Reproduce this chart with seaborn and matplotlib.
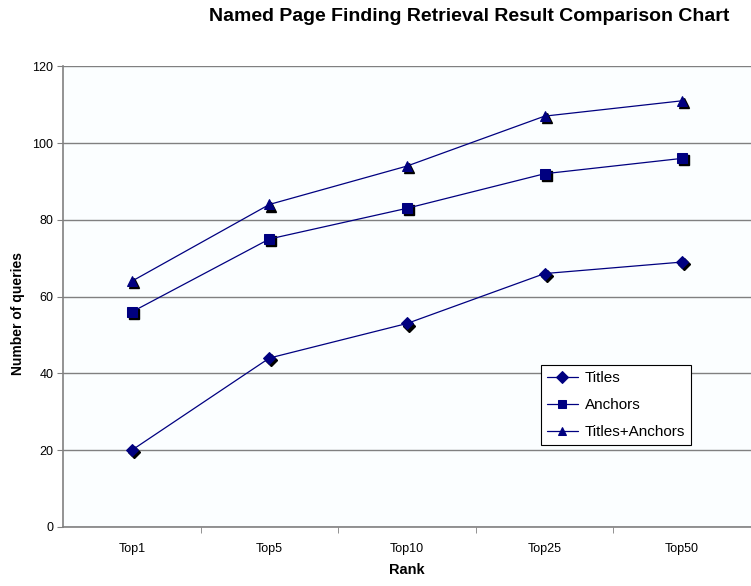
import pandas as pd
import seaborn as sns
import matplotlib.pyplot as plt
from matplotlib.transforms import ScaledTranslation
from matplotlib.ticker import FixedLocator

ranks = ['Top1', 'Top5', 'Top10', 'Top25', 'Top50']
titles = [20, 44, 53, 66, 69]
anchors = [56, 75, 83, 92, 96]
titles_anchors = [64, 84, 94, 107, 111]

series = ['Titles', 'Anchors', 'Titles+Anchors']
df = pd.DataFrame({
    'Rank': ranks * 3,
    'Queries': titles + anchors + titles_anchors,
    'Series': [s for s in series for _ in ranks],
})

sns.set_style('white')
plt.rcParams['font.family'] = ['Liberation Sans', 'DejaVu Sans']
plt.rcParams['text.color'] = 'black'
plt.rcParams['axes.labelcolor'] = 'black'
plt.rcParams['xtick.color'] = 'black'
plt.rcParams['ytick.color'] = 'black'

fig = plt.figure(figsize=(7.51, 5.86), dpi=100)
ax = fig.add_axes([0.0839, 0.1007, 0.9161, 0.7863])
ax.set_facecolor('#fbfeff')

navy = '#000080'
markers = {'Titles': 'D', 'Anchors': 's', 'Titles+Anchors': '^'}
sizes = {'Titles': 6, 'Anchors': 7, 'Titles+Anchors': 7.5}

# black drop shadow under the markers, like the original Excel chart
shadow = ax.transData + ScaledTranslation(1.5 / 72, -1.5 / 72, fig.dpi_scale_trans)
for s in series:
    d = df[df['Series'] == s]
    ax.plot(range(len(ranks)), d['Queries'].values, linestyle='none',
            marker=markers[s], markersize=sizes[s], color='black',
            transform=shadow, zorder=3)

for s in series:
    d = df[df['Series'] == s]
    sns.lineplot(data=d, x='Rank', y='Queries', ax=ax, color=navy,
                 marker=markers[s], markersize=sizes[s], markeredgecolor=navy,
                 linewidth=0.9, label=s, zorder=4)

ax.set_xlim(-0.5, 4.5)
ax.set_ylim(0, 120)
ax.set_yticks(range(0, 121, 20))
ax.yaxis.grid(True, color='#808080', linewidth=1)
ax.xaxis.grid(False)
ax.set_axisbelow(True)
for sp in ['top', 'right']:
    ax.spines[sp].set_visible(False)
for sp in ['left', 'bottom']:
    ax.spines[sp].set_color('#808080')
    ax.spines[sp].set_linewidth(1.2)

ax.tick_params(axis='y', which='major', left=True, length=4, color='#808080',
               labelsize=9, pad=3)
ax.tick_params(axis='x', which='major', bottom=False, labelsize=9, pad=8)
ax.xaxis.set_minor_locator(FixedLocator([0.5, 1.5, 2.5, 3.5]))
ax.tick_params(axis='x', which='minor', bottom=True, length=4, color='#808080')

ax.set_xlabel('Rank', fontsize=10.5, fontweight='bold', labelpad=6)
ax.set_ylabel('Number of queries', fontsize=10, fontweight='bold')
ax.yaxis.set_label_coords(-0.055, 0.464)
fig.text(0.6245, 0.971, 'Named Page Finding Retrieval Result Comparison Chart',
         ha='center', va='center', fontsize=14, fontweight='bold')

leg = ax.legend(loc='upper left', bbox_to_anchor=(541 / 751, 1 - 365 / 586),
                bbox_transform=fig.transFigure, frameon=True, fancybox=False,
                edgecolor='black', facecolor='white', framealpha=1,
                fontsize=11, handlelength=2.0, handletextpad=0.45,
                borderpad=0.4, borderaxespad=0, labelspacing=0.85)
leg.get_frame().set_linewidth(0.8)
for h in leg.legend_handles:
    h.set_markersize(6)

fig.savefig('out.png', dpi=100)
